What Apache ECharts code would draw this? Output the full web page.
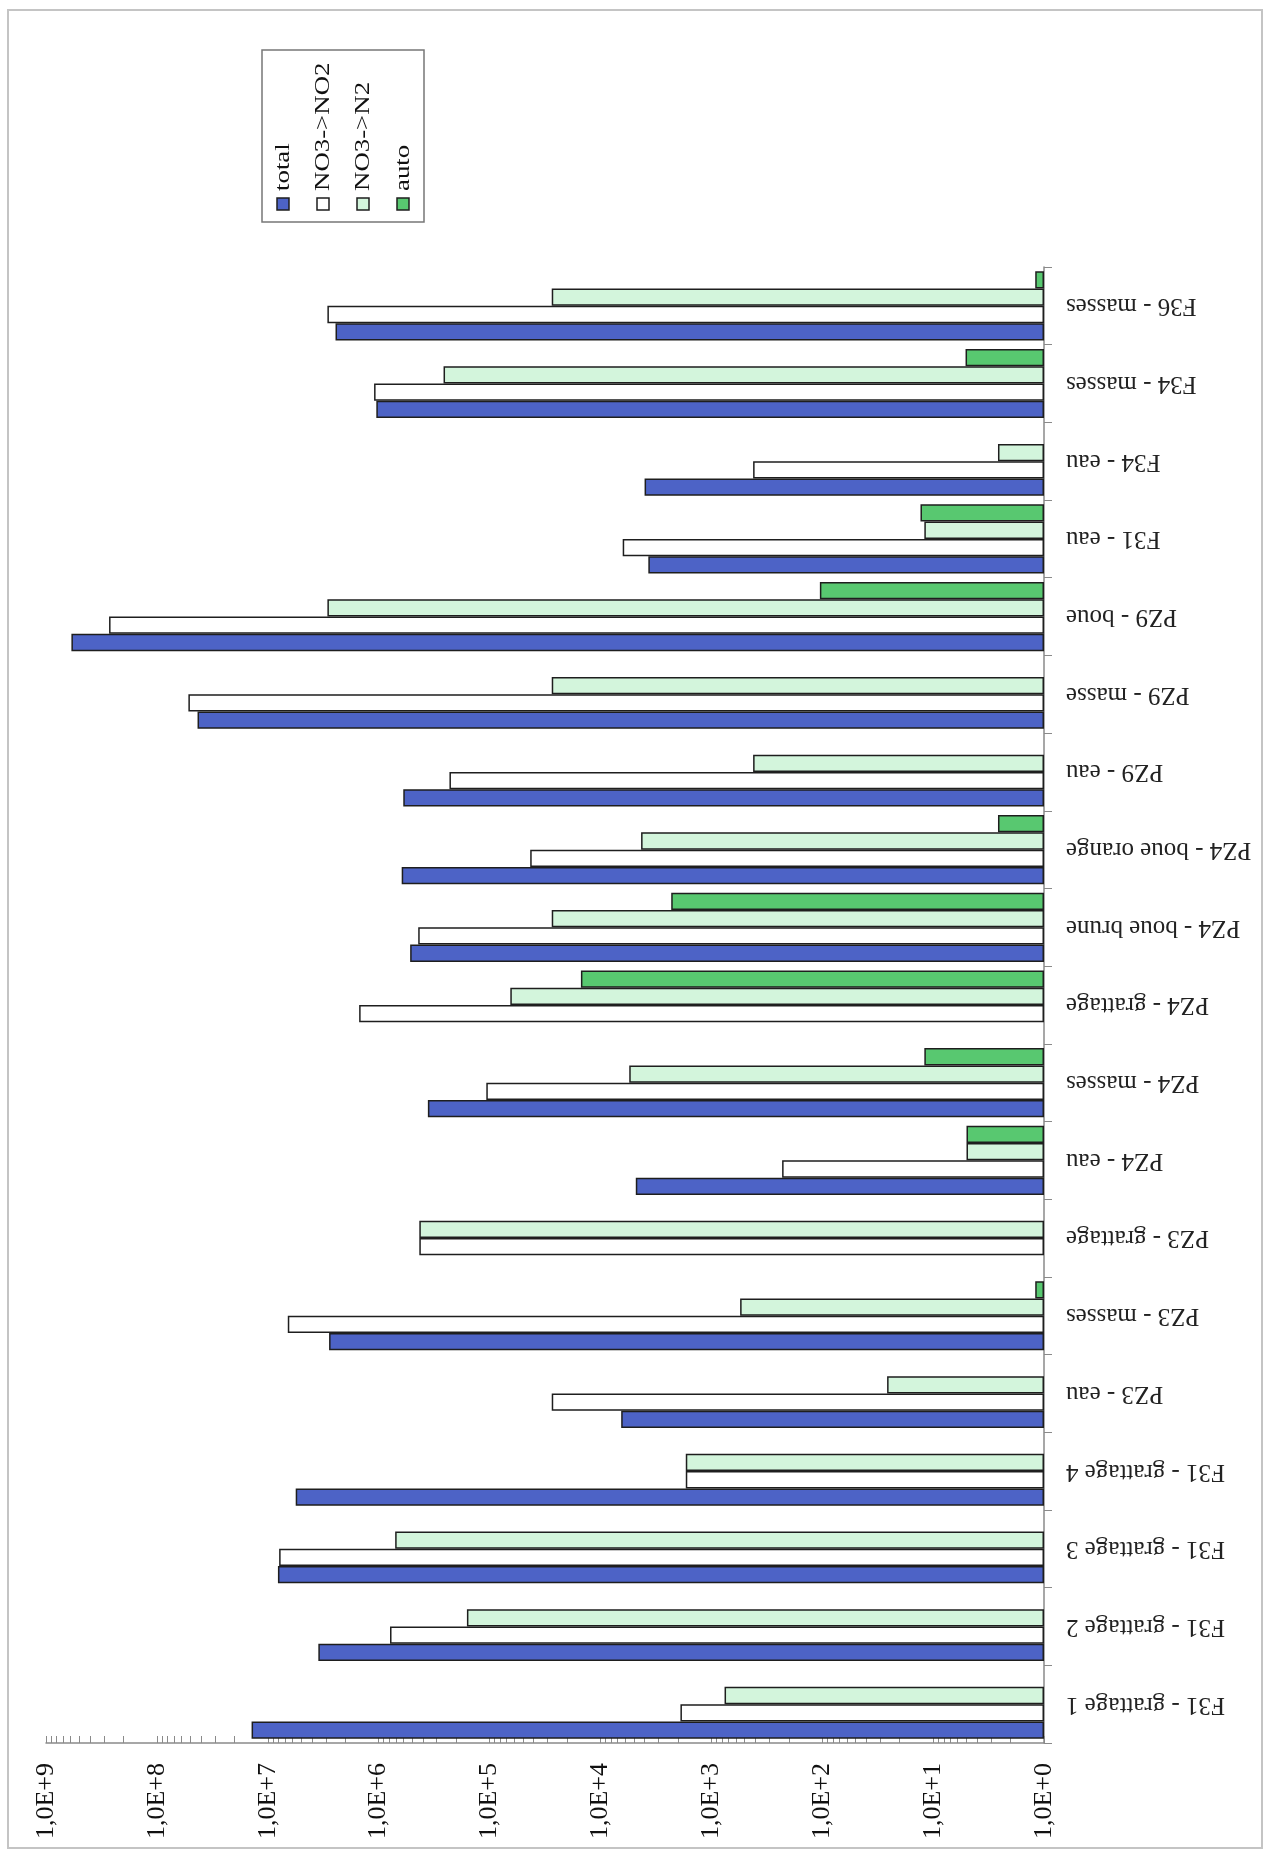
<!DOCTYPE html>
<html>
<head>
<meta charset="utf-8">
<script src="https://cdn.jsdelivr.net/npm/echarts@6/dist/echarts.min.js"></script>
<style>
html,body{margin:0;padding:0;background:#fff;}
#chart{width:1264px;height:1855px;}
</style>
</head>
<body>
<div id="chart"></div>
<script>
// Categories, bottom to top as drawn
var categories = [
  'F31 - grattage 1', 'F31 - grattage 2', 'F31 - grattage 3', 'F31 - grattage 4',
  'PZ3 - eau', 'PZ3 - masses', 'PZ3 - grattage', 'PZ4 - eau', 'PZ4 - masses',
  'PZ4 - grattage', 'PZ4 - boue brune', 'PZ4 - boue orange', 'PZ9 - eau',
  'PZ9 - masse', 'PZ9 - boue', 'F31 - eau', 'F34 - eau', 'F34 - masses', 'F36 - masses'
];
var seriesNames = ['total', 'NO3->NO2', 'NO3->N2', 'auto'];
var totalValues = [1.4e7, 3.5e6, 8.1e6, 5.6e6, 6.5e3, 2.8e6, null, 4.8e3, 3.6e5, null, 5.2e5, 6.2e5, 6.0e5, 4.3e7, 5.9e8, 3.7e3, 4.0e3, 1.05e6, 2.45e6];
var no3no2Values = [1.9e3, 7.9e5, 7.9e6, 1.7e3, 2.75e4, 6.6e6, 4.3e5, 2.3e2, 1.07e5, 1.5e6, 4.4e5, 4.3e4, 2.3e5, 5.2e7, 2.7e8, 6.3e3, 4.2e2, 1.1e6, 2.9e6];
var no3n2Values = [7.6e2, 1.6e5, 7.1e5, 1.7e3, 26, 5.5e2, 4.3e5, 5.0, 5.5e3, 6.5e4, 2.75e4, 4.3e3, 4.2e2, 2.75e4, 2.9e6, 12, 2.6, 2.6e5, 2.75e4];
var autoValues = [null, null, null, null, null, 1.2, null, 5.0, 12, 1.5e4, 2.3e3, 2.6, null, null, 1.05e2, 13, null, 5.1, 1.2];
var tickExponents = [0, 1, 2, 3, 4, 5, 6, 7, 8, 9];
var minorMultipliers = [1, 2, 3, 4, 5, 6, 7, 8, 9];

var colors = ['#4d63c6', '#ffffff', '#d3f5dc', '#58c870'];
var seriesData = [totalValues, no3no2Values, no3n2Values, autoValues];

// log-spaced tick positions (decades and their 2..9 multiples)
var tickValues = [];
tickExponents.forEach(function (e) {
  minorMultipliers.forEach(function (m) {
    var v = m * Math.pow(10, e);
    if (v <= 1e9) tickValues.push(v);
  });
});

var chart = echarts.init(document.getElementById('chart'));

// ECharts stacks the first series at the top of a horizontal group; reverse so "total" sits at the bottom
var series = seriesNames.map(function (name, i) {
  return {
    name: name,
    type: 'bar',
    data: seriesData[i],
    barGap: '0%',
    barCategoryGap: '11%',
    itemStyle: { color: colors[i], borderColor: '#1e1e1e', borderWidth: 1.5 }
  };
}).reverse();

// Legend drawn as rotated text (reads bottom to top like the reference)
var legendX = [283, 323, 363, 403];
var graphics = [
  { type: 'rect', shape: { x: 8, y: 10, width: 1254, height: 1838 },
    style: { fill: null, stroke: '#c4c4c4', lineWidth: 2 }, silent: true, z: -1 },
  { type: 'rect', shape: { x: 262, y: 50, width: 162, height: 172 },
    style: { fill: '#fff', stroke: '#777', lineWidth: 1.5 }, z: 10 }
];
seriesNames.forEach(function (name, i) {
  graphics.push({ type: 'rect', shape: { x: legendX[i] - 6, y: 198, width: 12, height: 12 },
    style: { fill: colors[i], stroke: '#1e1e1e', lineWidth: 1.5 }, z: 11 });
  graphics.push({ type: 'text', x: legendX[i], y: 191, rotation: Math.PI / 2, scaleX: 1.22,
    style: { text: name, fill: '#111', font: '22px "Liberation Serif"', textAlign: 'left', textVerticalAlign: 'middle' }, z: 11 });
});

chart.setOption({
  backgroundColor: '#ffffff',
  animation: false,
  grid: { left: 46, right: 220, top: 267, bottom: 112, containLabel: false },
  xAxis: {
    type: 'log',
    logBase: 10,
    min: 1,
    max: 1e9,
    interval: 1,
    splitNumber: 9,
    inverse: true,
    position: 'bottom',
    axisLine: { show: true, onZero: false, lineStyle: { color: '#8a8a8a', width: 1.5 } },
    axisTick: { show: true, inside: true, length: 7, customValues: tickValues, lineStyle: { color: '#8a8a8a' } },
    minorTick: { show: false },
    splitLine: { show: false },
    axisLabel: {
      rotate: 90,
      margin: 20,
      fontSize: 26,
      fontFamily: 'Liberation Serif',
      color: '#111',
      formatter: function (v) {
        var e = Math.round(Math.log(v) / Math.LN10);
        return tickExponents.indexOf(e) >= 0 ? '1,0E+' + e : '';
      }
    }
  },
  yAxis: {
    type: 'category',
    data: categories,
    position: 'right',
    axisLine: { show: true, onZero: false, lineStyle: { color: '#8a8a8a', width: 1.5 } },
    axisTick: { show: true, inside: false, length: 8, lineStyle: { color: '#8a8a8a' } },
    splitLine: { show: false },
    axisLabel: {
      rotate: 180,
      align: 'right',
      verticalAlign: 'middle',
      margin: 22,
      fontSize: 25,
      fontFamily: 'Liberation Serif',
      color: '#222'
    }
  },
  legend: { show: false, data: seriesNames },
  series: series,
  graphic: graphics
});
</script>
</body>
</html>
